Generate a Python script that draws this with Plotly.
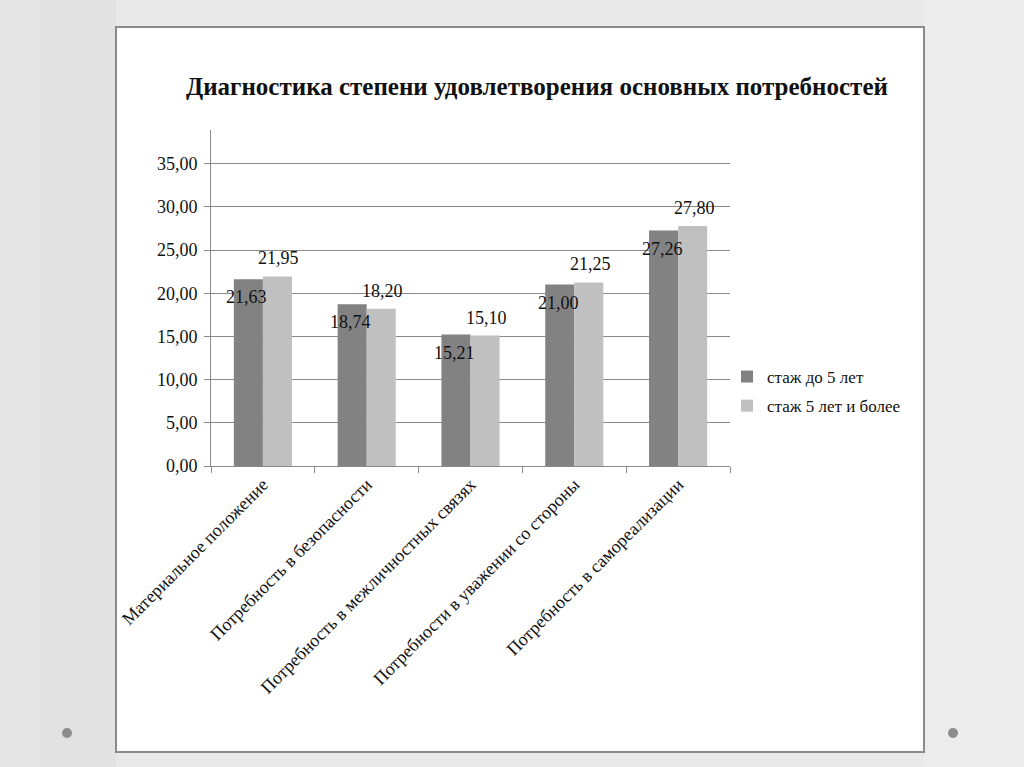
import plotly.graph_objects as go

categories = ["Материальное положение", "Потребность в безопасности",
              "Потребность в межличностных связях", "Потребности в уважении со стороны",
              "Потребность в самореализации"]
series_names = ["стаж до 5 лет", "стаж 5 лет и более"]
values_under5 = [21.63, 18.74, 15.21, 21.00, 27.26]
values_over5 = [21.95, 18.20, 15.10, 21.25, 27.80]
y_ticks = [0, 5, 10, 15, 20, 25, 30, 35]
y_ticklabels = ["0,00", "5,00", "10,00", "15,00", "20,00", "25,00", "30,00", "35,00"]

FONT = "Liberation Serif, Times New Roman, serif"
DARK = "#828282"
LIGHT = "#c0c0c0"
W, H = 1024, 767
L, R, T, B = 211, 730, 130, 466  # plot area in pixels


def px(x):
    return (x - L) / (R - L)


def py(y):
    return (B - y) / (B - T)


fig = go.Figure()
fig.add_trace(go.Bar(x=categories, y=values_under5, name=series_names[0],
                     marker=dict(color=DARK, line=dict(width=0)),
                     width=0.28, offset=-0.28, legendgroup="a"))
fig.add_trace(go.Bar(x=categories, y=values_over5, name=series_names[1],
                     marker=dict(color=LIGHT, line=dict(width=0)),
                     width=0.28, offset=0.0, legendgroup="b"))


def fmt(v):
    return f"{v:.2f}".replace(".", ",")


annotations = []
for c, v in zip(categories, values_under5):
    annotations.append(dict(x=c, y=v, xref="x", yref="y", text=fmt(v), showarrow=False,
                            xshift=-16, yshift=-18, font=dict(family=FONT, size=18, color="#111")))
for c, v in zip(categories, values_over5):
    annotations.append(dict(x=c, y=v, xref="x", yref="y", text=fmt(v), showarrow=False,
                            xshift=16, yshift=18, font=dict(family=FONT, size=18, color="#111")))

annotations.append(dict(x=px(537), y=py(86), xref="paper", yref="paper",
                        xanchor="center", yanchor="middle",
                        text="<b>Диагностика степени удовлетворения основных потребностей</b>",
                        showarrow=False, font=dict(family=FONT, size=25, color="#111")))

# background: slide with white content box
shapes = []
bands = [(0, 40, "#e6e6e6"), (40, 116, "#e2e2e2"), (924, 1024, "#ececec")]
for x0, x1, col in bands:
    shapes.append(dict(type="rect", xref="paper", yref="paper", x0=px(x0), x1=px(x1),
                       y0=py(H), y1=py(0), fillcolor=col, line=dict(width=0), layer="below"))
shapes.append(dict(type="rect", xref="paper", yref="paper",
                   x0=px(116), x1=px(924), y0=py(752), y1=py(27),
                   fillcolor="white", line=dict(color="#8a8a8a", width=2), layer="below"))
for cx in (67, 953):
    shapes.append(dict(type="circle", xref="paper", yref="paper",
                       x0=px(cx - 5), x1=px(cx + 5), y0=py(733 + 5), y1=py(733 - 5),
                       fillcolor="#8c8c8c", line=dict(width=0), layer="below"))

fig.update_layout(
    width=W, height=H,
    margin=dict(l=L, r=W - R, t=T, b=H - B),
    paper_bgcolor="#e9e9e9",
    plot_bgcolor="rgba(0,0,0,0)",
    font=dict(family=FONT, size=18, color="#111"),
    shapes=shapes,
    annotations=annotations,
    showlegend=True,
    legend=dict(x=px(727), y=py(359), xanchor="left", yanchor="top",
                font=dict(family=FONT, size=17, color="#111"),
                bgcolor="rgba(0,0,0,0)", tracegroupgap=4, itemwidth=30),
    bargap=0.44,
)
fig.update_xaxes(type="category", tickson="boundaries", ticks="outside", ticklen=6,
                 tickcolor="#8a8a8a", showline=True, linecolor="#8a8a8a", linewidth=1,
                 tickangle=-45, showgrid=False, tickfont=dict(family=FONT, size=18, color="#111"))
fig.update_yaxes(range=[0, 38.9], tickvals=y_ticks, ticktext=y_ticklabels, ticks="outside",
                 ticklen=6, tickcolor="#8a8a8a", showline=True, linecolor="#8a8a8a", linewidth=1,
                 showgrid=True, gridcolor="#8a8a8a", gridwidth=1, zeroline=False,
                 ticklabelstandoff=3,
                 tickfont=dict(family=FONT, size=18, color="#111"))

fig.write_html("out.html")
